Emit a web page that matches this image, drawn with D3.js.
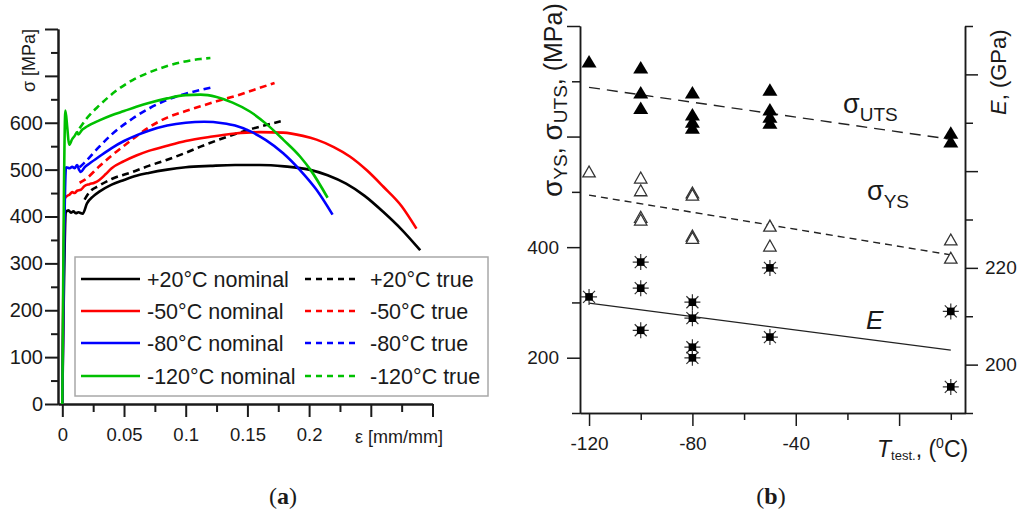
<!DOCTYPE html>
<html><head><meta charset="utf-8">
<script src="https://cdn.jsdelivr.net/npm/d3@7"></script>
<style>
body{margin:0;background:#fff}
svg{display:block}
text{font-family:"Liberation Sans",Arial,sans-serif;fill:#1a1a1a}
</style>
</head><body>
<svg id="c" width="1019" height="511"></svg>
<script>
// ---------- Panel (a) data: [strain, stress MPa] ----------
const nominal20 = [[0,0],[0.003,410],[0.005,413],[0.007,408],[0.009,411],[0.011,407],[0.013,409],[0.0165,406],[0.02,428],[0.025,443],[0.03,453],[0.04,468],[0.05,478],[0.06,487],[0.07,493],[0.085,500],[0.1,505],[0.12,508],[0.14,510],[0.16,510],[0.18,507],[0.2,500],[0.215,488],[0.23,470],[0.245,444],[0.26,410],[0.275,372],[0.29,328]];
const nominal50 = [[0,0],[0.002,438],[0.004,444],[0.006,447],[0.008,452],[0.01,450],[0.012,455],[0.015,457],[0.018,465],[0.022,469],[0.026,472],[0.03,478],[0.035,490],[0.04,503],[0.05,518],[0.06,530],[0.07,540],[0.085,551],[0.1,561],[0.12,570],[0.14,577],[0.16,580],[0.179,579],[0.195,572],[0.206,564],[0.22,548],[0.233,528],[0.247,498],[0.26,464],[0.275,422],[0.287,374]];
const nominal80 = [[0,0],[0.003,505],[0.006,503],[0.008,506],[0.01,503],[0.012,510],[0.0135,500],[0.015,495],[0.018,505],[0.022,513],[0.03,528],[0.04,546],[0.05,561],[0.06,573],[0.07,583],[0.085,594],[0.1,600],[0.115,602],[0.13,599],[0.14,594],[0.152,582],[0.165,563],[0.179,535],[0.193,498],[0.206,457],[0.219,404]];
const nominal120 = [[0,0],[0.0025,626],[0.004,590],[0.0055,553],[0.008,565],[0.01,572],[0.012,580],[0.013,575],[0.016,585],[0.02,592],[0.03,605],[0.04,616],[0.05,625],[0.06,634],[0.07,642],[0.085,652],[0.1,659],[0.112,660],[0.125,655],[0.138,643],[0.152,624],[0.166,596],[0.179,564],[0.193,527],[0.201,500],[0.215,440]];
const true20 = [[0.018,436],[0.022,452],[0.03,466],[0.04,480],[0.057,495],[0.07,508],[0.085,521],[0.1,536],[0.112,549],[0.125,562],[0.139,575],[0.155,588],[0.177,603]];
const true50 = [[0.014,472],[0.018,478],[0.03,507],[0.04,530],[0.057,565],[0.07,590],[0.085,611],[0.1,625],[0.112,635],[0.125,646],[0.139,656],[0.155,670],[0.172,685]];
const true80 = [[0.014,505],[0.018,515],[0.03,549],[0.04,575],[0.057,609],[0.07,630],[0.085,649],[0.1,662],[0.112,670],[0.122,676]];
const true120 = [[0.014,588],[0.02,610],[0.03,637],[0.044,669],[0.057,691],[0.071,708],[0.085,721],[0.098,730],[0.112,736],[0.12,738]];

const seriesNames = ["+20°C nominal","-50°C nominal","-80°C nominal","-120°C nominal"];
const trueNames = ["+20°C true","-50°C true","-80°C true","-120°C true"];
const seriesColors = ["#000000","#ff0000","#0000ff","#00c000"];

const aYMajor = [0,100,200,300,400,500,600,700,800];
const aYLabels = ["0","100","200","300","400","500","600","",""];
const aYMinor = [50,150,250,350,450,550,650,750];
const aXMajor = [0,0.05,0.1,0.15,0.2,0.25,0.3];
const aXLabels = ["0","0.05","0.1","0.15","0.2","",""];
const aXMinor = [0.025,0.075,0.125,0.175,0.225,0.275];

// ---------- Panel (b) data ----------
const temps = [-120,-100,-80,-50,20];
const utsValues = [[735],[724,679,651],[679,639,626,615],[684,648,635,624],[606,590]];
const ysValues = [[536],[525,502,454,449],[498,494,420,416],[438,402],[413,380]];
const eValues = [[214],[221.2,215.8,207.1],[212.9,209.6,203.6,201.4],[220,205.7],[211,195.4]];
const utsTrend = [[-120,689],[20,595]];
const ysTrend = [[-120,494],[20,386]];
const eTrend = [[-120,212.7],[20,203]];

const bXMajor = [-120,-80,-40,0];
const bXLabels = ["-120","-80","-40",""];
const bXMinor = [-100,-60,-20,20];
const bLMajor = [200,400,600,800];
const bLLabels = ["200","400","",""];
const bLMinor = [100,300,500,700];
const bRMajor = [200,220,240,260];
const bRLabels = ["200","220","",""];
const bRMinor = [190,210,230,250,270];

const svg = d3.select("#c");
svg.append("rect").attr("width",1019).attr("height",511).attr("fill","#fff");

function styleAxis(g, sw, fs){
  g.selectAll("line,path").attr("stroke","#1a1a1a").attr("stroke-width",sw);
  g.selectAll("text").attr("font-size",fs).attr("fill","#1a1a1a").attr("font-family","Liberation Sans, Arial, sans-serif");
}

// ================= Panel (a) =================
const xA = d3.scaleLinear().domain([-0.0035,0.3]).range([58,432.5]);
const yA = d3.scaleLinear().domain([0,800]).range([404,29]);
const gA = svg.append("g");

let ax;
ax = gA.append("g").attr("transform","translate(58,0)")
  .call(d3.axisLeft(yA).tickValues(aYMajor).tickSize(13).tickSizeOuter(0).tickPadding(2).tickFormat((d,i)=>aYLabels[i]));
styleAxis(ax,2,20);
ax = gA.append("g").attr("transform","translate(58,0)")
  .call(d3.axisLeft(yA).tickValues(aYMinor).tickSize(7).tickSizeOuter(0).tickFormat(""));
styleAxis(ax,2,20);
ax = gA.append("g").attr("transform","translate(0,404)")
  .call(d3.axisBottom(xA).tickValues(aXMajor).tickSize(13).tickSizeOuter(0).tickPadding(11).tickFormat((d,i)=>aXLabels[i]));
styleAxis(ax,2,18.5);
ax = gA.append("g").attr("transform","translate(0,404)")
  .call(d3.axisBottom(xA).tickValues(aXMinor).tickSize(8).tickSizeOuter(0).tickFormat(""));
styleAxis(ax,2,18.5);

gA.append("text").attr("transform","translate(35,92) rotate(-90)")
  .attr("font-size",18).text("σ [MPa]");
gA.append("text").attr("x",355).attr("y",443).attr("font-size",18).text("ε [mm/mm]");

const lineA = d3.line().x(d=>xA(d[0])).y(d=>yA(d[1])).curve(d3.curveMonotoneX);
const nominals = [nominal20,nominal50,nominal80,nominal120];
const trues = [true20,true50,true80,true120];
trues.forEach((s,i)=>{
  gA.append("path").attr("d",lineA(s)).attr("fill","none")
    .attr("stroke",seriesColors[i]).attr("stroke-width",2.6).attr("stroke-dasharray","7,4.5");
});
nominals.forEach((s,i)=>{
  gA.append("path").attr("d",lineA(s)).attr("fill","none")
    .attr("stroke",seriesColors[i]).attr("stroke-width",2.6).attr("stroke-linejoin","round");
});

// legend
const leg = gA.append("g");
leg.append("rect").attr("x",75).attr("y",257).attr("width",413).attr("height",139)
  .attr("fill","#fff").attr("stroke","#a8a8a8").attr("stroke-width",1.5);
const rowY = [279,311,343,376];
seriesNames.forEach((n,i)=>{
  leg.append("line").attr("x1",81).attr("x2",140).attr("y1",rowY[i]).attr("y2",rowY[i])
    .attr("stroke",seriesColors[i]).attr("stroke-width",2.6);
  leg.append("text").attr("x",147).attr("y",rowY[i]).attr("dy","0.36em").attr("font-size",21.5).text(n);
  leg.append("line").attr("x1",305).attr("x2",360).attr("y1",rowY[i]).attr("y2",rowY[i])
    .attr("stroke",seriesColors[i]).attr("stroke-width",2.6).attr("stroke-dasharray","6,5");
  leg.append("text").attr("x",370).attr("y",rowY[i]).attr("dy","0.36em").attr("font-size",21.5).text(trueNames[i]);
});

// ================= Panel (b) =================
const xB = d3.scaleLinear().domain([-123.5,25.5]).range([580,965]);
const yL = d3.scaleLinear().domain([100,800]).range([413,26]);
const yR = d3.scaleLinear().domain([190,270]).range([413,26]);
const gB = svg.append("g");

ax = gB.append("g").attr("transform","translate(580,0)")
  .call(d3.axisLeft(yL).tickValues(bLMajor).tickSize(13).tickSizeOuter(0).tickPadding(8).tickFormat((d,i)=>bLLabels[i]));
styleAxis(ax,1.5,19);
ax = gB.append("g").attr("transform","translate(580,0)")
  .call(d3.axisLeft(yL).tickValues(bLMinor).tickSize(8).tickSizeOuter(0).tickFormat(""));
styleAxis(ax,1.5,19);
ax = gB.append("g").attr("transform","translate(965,0)")
  .call(d3.axisRight(yR).tickValues(bRMajor).tickSize(13).tickSizeOuter(0).tickPadding(7).tickFormat((d,i)=>bRLabels[i]));
styleAxis(ax,1.5,19);
ax = gB.append("g").attr("transform","translate(965,0)")
  .call(d3.axisRight(yR).tickValues(bRMinor).tickSize(8).tickSizeOuter(0).tickFormat(""));
styleAxis(ax,1.5,19);
ax = gB.append("g").attr("transform","translate(0,413)")
  .call(d3.axisBottom(xB).tickValues(bXMajor).tickSize(13).tickSizeOuter(0).tickPadding(11).tickFormat((d,i)=>bXLabels[i]));
styleAxis(ax,1.5,19);
ax = gB.append("g").attr("transform","translate(0,413)")
  .call(d3.axisBottom(xB).tickValues(bXMinor).tickSize(7).tickSizeOuter(0).tickFormat(""));
styleAxis(ax,1.5,19);

// trend lines
const lineL = d3.line().x(d=>xB(d[0])).y(d=>yL(d[1]));
const lineR = d3.line().x(d=>xB(d[0])).y(d=>yR(d[1]));
gB.append("path").attr("d",lineL(utsTrend)).attr("fill","none").attr("stroke","#222").attr("stroke-width",1.4).attr("stroke-dasharray","11,7");
gB.append("path").attr("d",lineL(ysTrend)).attr("fill","none").attr("stroke","#222").attr("stroke-width",1.4).attr("stroke-dasharray","7,5");
gB.append("path").attr("d",lineR(eTrend)).attr("fill","none").attr("stroke","#222").attr("stroke-width",1.3);

// markers
const flatten = vals => vals.flatMap((arr,i)=>arr.map(v=>({t:temps[i],v})));
const triFilled = "M0,-7L7.5,5.5L-7.5,5.5Z";
const triOpen = "M0,-6L6.2,5L-6.2,5Z";
gB.append("g").selectAll("path").data(flatten(utsValues)).join("path")
  .attr("transform",d=>`translate(${xB(d.t)},${yL(d.v)})`)
  .attr("d",triFilled).attr("fill","#000");
gB.append("g").selectAll("path").data(flatten(ysValues)).join("path")
  .attr("transform",d=>`translate(${xB(d.t)},${yL(d.v)})`)
  .attr("d",triOpen).attr("fill","#fff").attr("stroke","#333").attr("stroke-width",1.3);
const star = gB.append("g").selectAll("g").data(flatten(eValues)).join("g")
  .attr("transform",d=>`translate(${xB(d.t)},${yR(d.v)})`);
star.append("path").attr("d","M0,-8V8M-8,0H8M-6,-6L6,6M-6,6L6,-6")
  .attr("stroke","#333").attr("stroke-width",1.2).attr("fill","none");
star.append("rect").attr("x",-3.8).attr("y",-3.8).attr("width",7.6).attr("height",7.6).attr("fill","#000");

// axis titles (b)
const lt = gB.append("text").attr("transform","translate(562,197) rotate(-90)").attr("font-size",25);
lt.append("tspan").attr("font-size",28).text("σ");
lt.append("tspan").attr("font-size",19).attr("dy",5).text("YS");
lt.append("tspan").attr("dy",-5).text(", ");
lt.append("tspan").attr("font-size",28).text("σ");
lt.append("tspan").attr("font-size",19).attr("dy",5).text("UTS");
lt.append("tspan").attr("dy",-5).text(", (MPa)");

const rt = gB.append("text").attr("transform","translate(1006,115) rotate(-90)").attr("font-size",22);
rt.append("tspan").attr("font-style","italic").text("E");
rt.append("tspan").text(", (GPa)");

const xt = gB.append("text").attr("x",877).attr("y",457).attr("font-size",23);
xt.append("tspan").attr("font-style","italic").text("T");
xt.append("tspan").attr("font-size",13).attr("dy",3).text("test.");
xt.append("tspan").attr("dy",-3).text(", (");
xt.append("tspan").attr("font-size",14).attr("dy",-9).text("0");
xt.append("tspan").attr("dy",9).text("C)");

// annotations
const a1 = gB.append("text").attr("x",843).attr("y",113);
a1.append("tspan").attr("font-size",27).text("σ");
a1.append("tspan").attr("font-size",19).attr("dy",8).text("UTS");
const a2 = gB.append("text").attr("x",867).attr("y",200);
a2.append("tspan").attr("font-size",27).text("σ");
a2.append("tspan").attr("font-size",19).attr("dy",8).text("YS");
gB.append("text").attr("x",866).attr("y",329).attr("font-size",26).attr("font-style","italic").text("E");

// panel labels
[["a",283],["b",771]].forEach(([l,x])=>{
  const t = svg.append("text").attr("x",x).attr("y",504).attr("text-anchor","middle")
    .attr("font-size",24).style("font-family","'Liberation Serif', 'Times New Roman', serif");
  t.append("tspan").text("(");
  t.append("tspan").attr("font-weight","bold").text(l);
  t.append("tspan").text(")");
});
</script>
</body></html>
